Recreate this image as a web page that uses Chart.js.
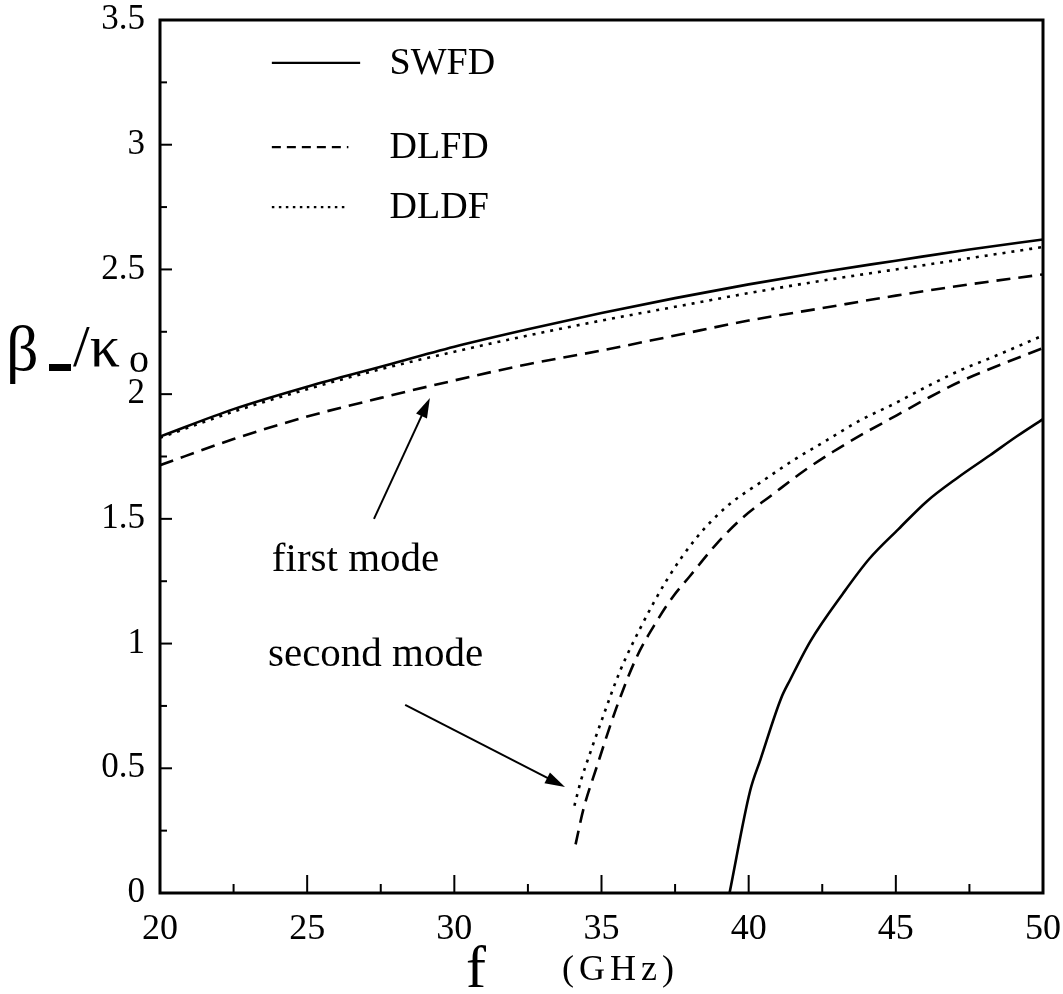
<!DOCTYPE html>
<html>
<head>
<meta charset="utf-8">
<script src="https://cdn.jsdelivr.net/npm/chart.js@4/dist/chart.umd.min.js"></script>
<style>
  html, body { margin: 0; padding: 0; background: #ffffff; }
  #c { display: block; }
</style>
</head>
<body>
<canvas id="c" width="1063" height="994"></canvas>
<script>
// Frequency axis (GHz) and normalised propagation constant beta_-/k0
const xTicks = [20, 25, 30, 35, 40, 45, 50];
const yTicks = [0, 0.5, 1, 1.5, 2, 2.5, 3, 3.5];
const yTickLabels = ['0', '0.5', '1', '1.5', '2', '2.5', '3', '3.5'];

// First mode
const swfd1F = [20, 22.5, 25, 27.5, 30, 32.5, 35, 37.5, 40, 42.5, 45, 47.5, 50];
const swfd1B = [1.83, 1.94, 2.03, 2.11, 2.19, 2.26, 2.325, 2.385, 2.44, 2.49, 2.535, 2.58, 2.62];
const dlfd1F = [20, 22.5, 25, 27.5, 30, 32.5, 35, 37.5, 40, 42.5, 45, 47.5, 50];
const dlfd1B = [1.715, 1.82, 1.91, 1.985, 2.055, 2.12, 2.175, 2.235, 2.295, 2.345, 2.395, 2.44, 2.48];
const dldf1F = [20, 22.5, 25, 27.5, 30, 32.5, 35, 37.5, 40, 42.5, 45, 47.5, 50];
const dldf1B = [1.825, 1.93, 2.02, 2.10, 2.17, 2.235, 2.295, 2.35, 2.405, 2.455, 2.50, 2.545, 2.59];

// Second mode
const swfd2F = [39.35, 40.05, 40.4, 41.1, 41.41, 42.1, 43.2, 44.1, 45.1, 46.05, 47.1, 48.2, 49.1, 50];
const swfd2B = [0, 0.41, 0.535, 0.78, 0.855, 1.01, 1.2, 1.34, 1.46, 1.57, 1.665, 1.755, 1.83, 1.90];
const dlfd2F = [34.12, 34.38, 34.84, 35.52, 36.2, 36.88, 37.44, 38.0, 38.91, 39.8, 40.84, 41.85, 42.88, 43.95, 45.03, 46.1, 47.18, 48.6, 50];
const dlfd2B = [0.195, 0.333, 0.506, 0.747, 0.947, 1.09, 1.19, 1.27, 1.40, 1.505, 1.60, 1.69, 1.77, 1.845, 1.915, 1.985, 2.05, 2.12, 2.185];
const dldf2F = [34.08, 34.3, 34.61, 35.06, 35.63, 36.31, 37.22, 38.2, 39.26, 40.39, 41.52, 42.65, 43.79, 44.92, 46.05, 47.18, 48.32, 50];
const dldf2B = [0.35, 0.45, 0.56, 0.71, 0.89, 1.06, 1.255, 1.42, 1.55, 1.645, 1.735, 1.815, 1.895, 1.96, 2.03, 2.095, 2.15, 2.235];

const legendNames = ['SWFD', 'DLFD', 'DLDF'];

const SERIF = '"Liberation Serif", "DejaVu Serif", serif';
const DASH = [14, 8];
const DOT = [3, 6];
const styles = { SWFD: [], DLFD: DASH, DLDF: DOT };

const pts = (fs, bs) => fs.map((f, i) => ({ x: f, y: bs[i] }));

function series(name, fs, bs) {
  return {
    label: name,
    data: pts(fs, bs),
    borderColor: '#000',
    borderWidth: 2.6,
    borderDash: styles[name],
    pointRadius: 0,
    fill: false,
    showLine: true,
    cubicInterpolationMode: 'monotone'
  };
}

// Axis frame, inward ticks, legend, annotations and axis titles
const decorations = {
  id: 'decorations',
  afterDatasetsDraw(chart) {
    const { ctx, chartArea: a, scales: { x, y } } = chart;
    ctx.save();
    ctx.strokeStyle = '#000';
    ctx.fillStyle = '#000';
    ctx.setLineDash([]);

    // inward ticks
    ctx.lineWidth = 2;
    for (let v = 20; v <= 50.001; v += 2.5) {
      const px = x.getPixelForValue(v);
      const len = (Math.abs(v % 5) < 1e-6) ? 18 : 9;
      ctx.beginPath(); ctx.moveTo(px, a.bottom); ctx.lineTo(px, a.bottom - len); ctx.stroke();
    }
    for (let v = 0; v <= 3.5001; v += 0.25) {
      const py = y.getPixelForValue(v);
      const len = (Math.abs(v % 0.5) < 1e-6) ? 12 : 7;
      ctx.beginPath(); ctx.moveTo(a.left, py); ctx.lineTo(a.left + len, py); ctx.stroke();
    }

    // frame
    ctx.lineWidth = 3;
    ctx.strokeRect(a.left, a.top, a.right - a.left, a.bottom - a.top);

    // legend
    const legY = [3.328, 2.99, 2.75];
    legendNames.forEach((n, i) => {
      const py = y.getPixelForValue(legY[i]);
      ctx.lineWidth = 2.2;
      ctx.setLineDash(n === 'SWFD' ? [] : (n === 'DLFD' ? [9, 6] : [2.5, 4.5]));
      ctx.beginPath();
      ctx.moveTo(x.getPixelForValue(23.8), py);
      ctx.lineTo(x.getPixelForValue(n === 'SWFD' ? 26.8 : 26.4), py);
      ctx.stroke();
      ctx.setLineDash([]);
      ctx.font = '38px ' + SERIF;
      ctx.textBaseline = 'middle';
      ctx.textAlign = 'left';
      ctx.fillText(n, x.getPixelForValue(27.8), py + 1);
    });

    // annotations with arrows
    function arrow(f0, b0, f1, b1) {
      const x0 = x.getPixelForValue(f0), y0 = y.getPixelForValue(b0);
      const x1 = x.getPixelForValue(f1), y1 = y.getPixelForValue(b1);
      const ang = Math.atan2(y1 - y0, x1 - x0);
      const hl = 20, hw = 6;
      ctx.lineWidth = 2;
      ctx.beginPath();
      ctx.moveTo(x0, y0);
      ctx.lineTo(x1 - hl * 0.8 * Math.cos(ang), y1 - hl * 0.8 * Math.sin(ang));
      ctx.stroke();
      ctx.beginPath();
      ctx.moveTo(x1, y1);
      ctx.lineTo(x1 - hl * Math.cos(ang) + hw * Math.sin(ang), y1 - hl * Math.sin(ang) - hw * Math.cos(ang));
      ctx.lineTo(x1 - hl * Math.cos(ang) - hw * Math.sin(ang), y1 - hl * Math.sin(ang) + hw * Math.cos(ang));
      ctx.closePath();
      ctx.fill();
    }
    ctx.font = '41px ' + SERIF;
    ctx.textBaseline = 'middle';
    ctx.textAlign = 'left';
    ctx.fillText('first mode', x.getPixelForValue(23.8), y.getPixelForValue(1.335));
    arrow(27.27, 1.50, 29.17, 1.985);
    ctx.fillText('second mode', x.getPixelForValue(23.67), y.getPixelForValue(0.954));
    arrow(28.33, 0.754, 33.76, 0.425);

    // y-axis title: beta_- / kappa_o
    ctx.textBaseline = 'alphabetic';
    ctx.font = '64px ' + SERIF;
    ctx.fillText('\u03B2', 6, 370);
    ctx.fillRect(49, 364, 22, 7);
    ctx.font = '60px ' + SERIF;
    ctx.fillText('/\u03BA', 73, 366);
    ctx.font = '40px ' + SERIF;
    ctx.fillText('o', 129, 372);

    // x-axis title
    ctx.font = '60px ' + SERIF;
    ctx.fillText('f', 466, 987);
    ctx.font = '36px ' + SERIF;
    ctx.letterSpacing = '5px';
    ctx.fillText('(GHz)', 562, 980);
    ctx.letterSpacing = '0px';

    ctx.restore();
  }
};

new Chart(document.getElementById('c'), {
  type: 'scatter',
  data: {
    datasets: [
      series('SWFD', swfd1F, swfd1B),
      series('DLFD', dlfd1F, dlfd1B),
      series('DLDF', dldf1F, dldf1B),
      series('SWFD', swfd2F, swfd2B),
      series('DLFD', dlfd2F, dlfd2B),
      series('DLDF', dldf2F, dldf2B)
    ]
  },
  options: {
    responsive: false,
    animation: false,
    layout: { padding: { top: 20, right: 20, left: 0, bottom: 0 } },
    plugins: { legend: { display: false }, tooltip: { enabled: false } },
    scales: {
      x: {
        type: 'linear', min: 20, max: 50,
        afterBuildTicks: s => { s.ticks = xTicks.map(v => ({ value: v })); },
        afterFit: s => { s.height = 101; s.paddingLeft = 0; s.paddingRight = 0; },
        grid: { display: false, drawTicks: false },
        border: { display: false },
        ticks: { color: '#000', padding: 15, font: { family: SERIF, size: 36 } }
      },
      y: {
        type: 'linear', min: 0, max: 3.5,
        afterBuildTicks: s => { s.ticks = yTicks.map(v => ({ value: v })); },
        afterFit: s => { s.width = 160; s.paddingTop = 0; s.paddingBottom = 0; },
        grid: { display: false, drawTicks: false },
        border: { display: false },
        ticks: {
          color: '#000', padding: 15, font: { family: SERIF, size: 35 },
          callback: (v, i) => yTickLabels[i]
        }
      }
    }
  },
  plugins: [decorations]
});
</script>
</body>
</html>
